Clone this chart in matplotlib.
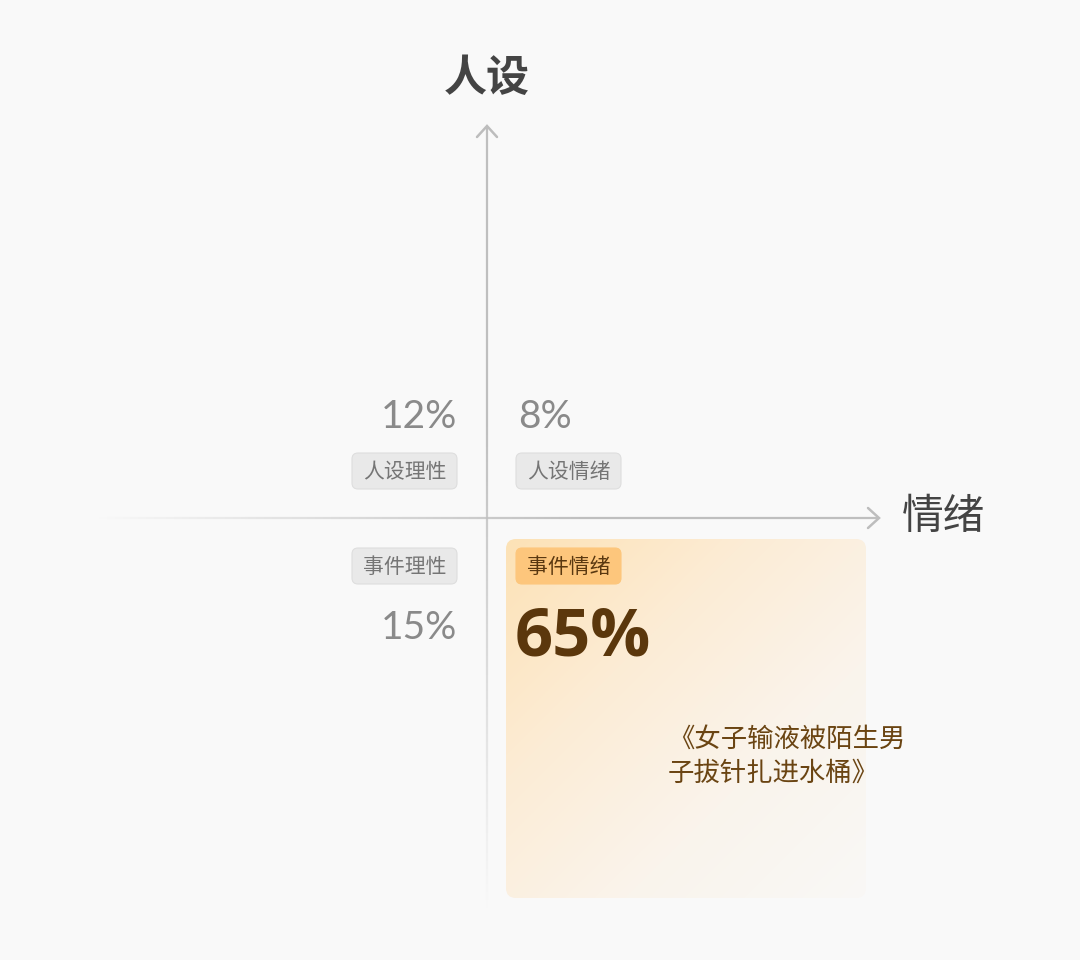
import numpy as np
import matplotlib
matplotlib.use("Agg")
import matplotlib.pyplot as plt
from matplotlib.patches import FancyBboxPatch
from matplotlib.collections import LineCollection
from matplotlib.colors import LinearSegmentedColormap

plt.rcParams['font.family'] = ['Noto Sans CJK SC', 'DejaVu Sans']

# ---- data ----
x_axis_label = "情绪"
y_axis_label = "人设"
quadrant_tags = ["人设理性", "人设情绪", "事件理性", "事件情绪"]
quadrant_values = [12, 8, 15, 65]
highlight_index = 3
highlight_title = "《女子输液被陌生男\n子拔针扎进水桶》"

W, H = 1080, 960
fig = plt.figure(figsize=(W / 100, H / 100), dpi=100)
fig.patch.set_facecolor("#f9f9f9")
ax = fig.add_axes([0, 0, 1, 1])
ax.set_xlim(0, W)
ax.set_ylim(H, 0)
ax.axis("off")

# origin of the quadrant chart
ox, oy = 487, 518

# ---- highlight gradient box ----
bx0, by0, bx1, by1 = 506, 539, 866, 898
box = FancyBboxPatch((bx0, by0), bx1 - bx0, by1 - by0,
                     boxstyle="round,pad=0,rounding_size=10",
                     facecolor="none", edgecolor="none", zorder=1)
ax.add_patch(box)
gx, gy = np.meshgrid(np.linspace(0, 1, 200), np.linspace(0, 1, 200))
t = np.clip((gx + gy) / 2.0, 0, 1)
cmap = LinearSegmentedColormap.from_list(
    "g", ["#fde2b6", "#fcecd5", "#faf4ec", "#f9f8f6"])
im = ax.imshow(t, cmap=cmap, extent=(bx0, bx1, by1, by0),
               origin="upper", zorder=1, interpolation="bilinear")
im.set_clip_path(box)

# ---- axes lines with fading ----
n = 200
xs = np.linspace(95, 878, n)
segs = [[(xs[i], oy), (xs[i + 1], oy)] for i in range(n - 1)]
alphas = np.clip(np.linspace(0.0, 1.6, n - 1), 0, 1)
cols = [(0.75, 0.75, 0.75, a) for a in alphas]
ax.add_collection(LineCollection(segs, colors=cols, linewidths=1.6, zorder=2))

ys = np.linspace(127, 912, n)
segs = [[(ox, ys[i]), (ox, ys[i + 1])] for i in range(n - 1)]
alphas = np.clip(np.linspace(1.6, 0.0, n - 1), 0, 1)
cols = [(0.75, 0.75, 0.75, a) for a in alphas]
ax.add_collection(LineCollection(segs, colors=cols, linewidths=1.6, zorder=2))

# arrow heads (open chevrons)
ax.plot([868, 879, 868], [508, 518, 528], color="#bdbdbd", lw=1.8,
        solid_capstyle="round", solid_joinstyle="miter", zorder=3)
ax.plot([477, 487, 497], [137, 126, 137], color="#bdbdbd", lw=1.8,
        solid_capstyle="round", solid_joinstyle="miter", zorder=3)

# axis labels
ax.text(487, 78, y_axis_label, fontsize=31, color="#444444", weight="bold",
        ha="center", va="center", zorder=4)
ax.text(943, 518, x_axis_label, fontsize=30, color="#444444",
        ha="center", va="center", zorder=4)

# ---- tags ----
tag_boxes = [(352, 453), (516, 453), (352, 548), (516, 548)]
tw, th = 105, 36
for i, (tx, ty) in enumerate(tag_boxes):
    hl = (i == highlight_index)
    fc = "#fdc67c" if hl else "#e9e9e9"
    ec = "#fdc67c" if hl else "#dedede"
    tc = "#5a3810" if hl else "#757575"
    p = FancyBboxPatch((tx, ty), tw, th,
                       boxstyle="round,pad=0,rounding_size=6",
                       facecolor=fc, edgecolor=ec, lw=0.8, zorder=4)
    ax.add_patch(p)
    ax.text(tx + tw / 2, ty + th / 2 + 1, quadrant_tags[i], fontsize=15,
            color=tc, ha="center", va="center", zorder=5)

# ---- percentages ----
pct_pos = [(457, 417, "right"), (518, 417, "left"), (457, 628, "right")]
for i, (px, py, ha) in enumerate(pct_pos):
    ax.text(px, py, f"{quadrant_values[i]}%", fontsize=28, color="#8a8a8a",
            ha=ha, va="center", family=["Lato", "DejaVu Sans"],
            weight="normal", zorder=5)

ax.text(515, 638, f"{quadrant_values[highlight_index]}%", fontsize=48,
        color="#5b370c", ha="left", va="center",
        family=["Open Sans", "DejaVu Sans"], weight="bold", zorder=5)

ax.text(668, 756, highlight_title, fontsize=19, color="#6a4412",
        ha="left", va="center", linespacing=1.35, zorder=5)

fig.savefig("out.png", dpi=100, facecolor=fig.get_facecolor())
